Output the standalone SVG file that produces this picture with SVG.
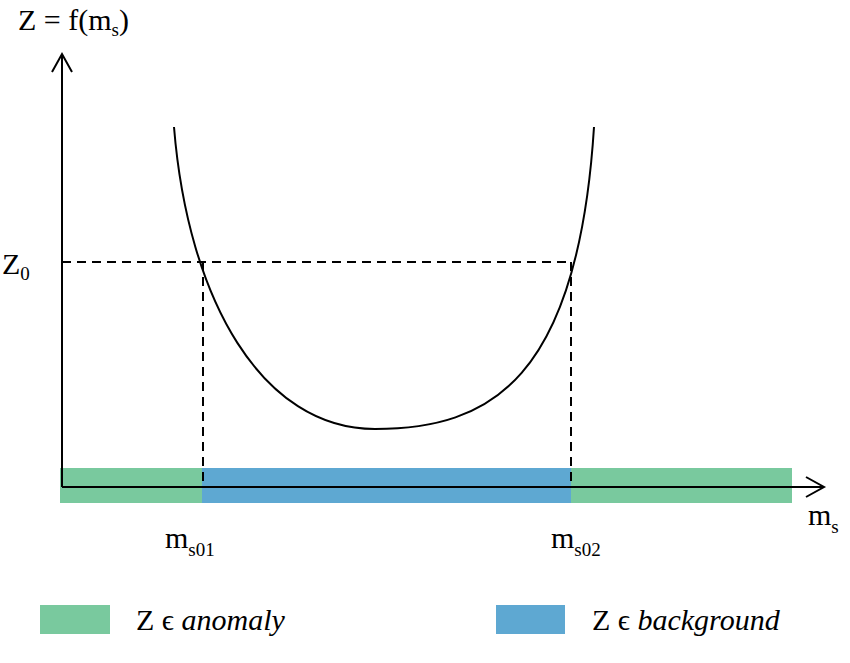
<svg xmlns="http://www.w3.org/2000/svg" width="850" height="663" viewBox="0 0 850 663">
<style>
text{font-family:"Liberation Serif",serif;font-size:30px;fill:#000}
.ax{stroke:#000;stroke-width:2;fill:none}
.d{stroke:#000;stroke-width:2;stroke-dasharray:9,6;fill:none}
.g{fill:#79c99e}.b{fill:#5ea8d2}
</style>
<rect width="850" height="663" fill="#fff"/>
<g id="bars">
<rect class="g" x="60" y="468" width="732" height="35"/>
<rect class="b" x="202" y="468" width="369" height="35"/>
</g>
<g id="connectors">
<path class="ax" d="M62,487V54M52,72L62,54L72,72"/>
<path class="ax" d="M62,487H824M806,477L824,487L806,497"/>
<path class="d" d="M62,262H571M203,262V487M571,262V487"/>
<path class="ax" d="M174,127C188,300 262,429 375,429C490,429 578,380 594,127"/>
</g>
<g id="labels">
<text x="18" y="30">Z = f(m<tspan font-size="19" dy="6">s</tspan><tspan dy="-6">)</tspan></text>
<text x="2" y="274">Z<tspan font-size="19" dy="6">0</tspan></text>
<text x="165" y="548">m<tspan font-size="19" dy="8">s01</tspan></text>
<text x="551" y="548">m<tspan font-size="19" dy="8">s02</tspan></text>
<text x="808" y="525">m<tspan font-size="19" dy="8">s</tspan></text>
</g>
<g id="legend">
<rect class="g" x="40" y="605" width="70" height="29"/>
<text x="136" y="630">Z ϵ <tspan font-style="italic">anomaly</tspan></text>
<rect class="b" x="496" y="605" width="69" height="29"/>
<text x="592" y="630">Z ϵ <tspan font-style="italic">background</tspan></text>
</g>
</svg>
